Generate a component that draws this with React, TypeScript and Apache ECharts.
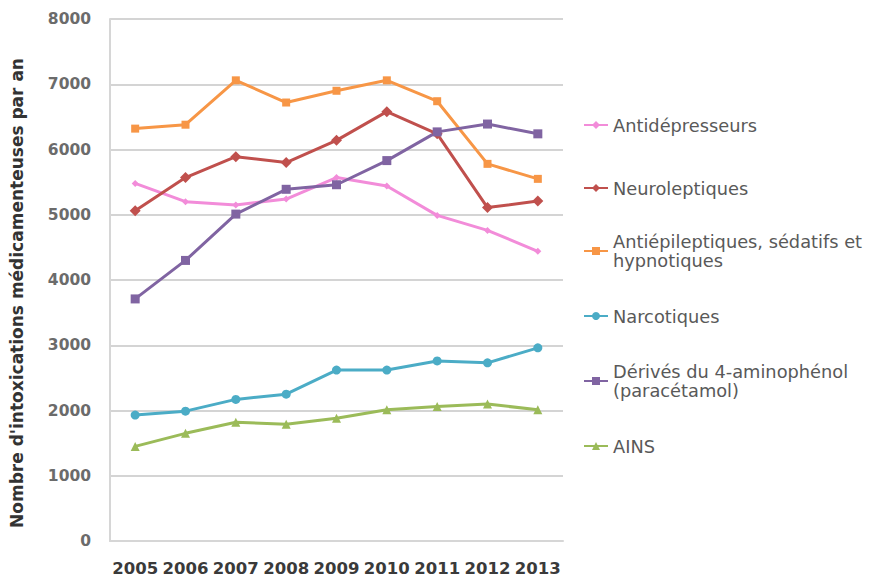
import React, { useEffect, useRef } from "react";
import * as echarts from "echarts";

// Years on the category axis
const years = ["2005", "2006", "2007", "2008", "2009", "2010", "2011", "2012", "2013"];

// Number of drug poisonings per year, by drug class
const antidepresseurs = [5480, 5200, 5150, 5240, 5570, 5440, 4990, 4760, 4440];
const neuroleptiques = [5060, 5570, 5890, 5800, 6140, 6580, 6240, 5110, 5210];
const antiepileptiques = [6320, 6380, 7060, 6720, 6900, 7060, 6740, 5780, 5550];
const narcotiques = [1930, 1990, 2170, 2250, 2620, 2620, 2760, 2730, 2960];
const paracetamol = [3710, 4300, 5010, 5390, 5460, 5830, 6270, 6390, 6240];
const ains = [1450, 1650, 1820, 1790, 1880, 2010, 2060, 2100, 2010];

// Series names as shown in the legend
const names = [
  "Antidépresseurs",
  "Neuroleptiques",
  "Antiépileptiques, sédatifs et\nhypnotiques",
  "Narcotiques",
  "Dérivés du 4-aminophénol\n(paracétamol)",
  "AINS",
];

const FONT = "DejaVu Sans";
const LINE_H = 19;

export default function App() {
  const ref = useRef<HTMLDivElement>(null);

  useEffect(() => {
    if (!ref.current) return;
    const chart = echarts.init(ref.current, undefined, { renderer: "svg" });

    const seriesDefs = [
      { name: names[0], data: antidepresseurs, color: "#F28CD9", symbol: "diamond", size: 7 },
      { name: names[1], data: neuroleptiques, color: "#C0504D", symbol: "diamond", size: 11 },
      { name: names[2], data: antiepileptiques, color: "#F79646", symbol: "rect", size: 8 },
      { name: names[3], data: narcotiques, color: "#4BACC6", symbol: "circle", size: 9 },
      { name: names[4], data: paracetamol, color: "#8064A2", symbol: "rect", size: 9 },
      { name: names[5], data: ains, color: "#9BBB59", symbol: "triangle", size: 9 },
    ];

    // One legend block per entry so each row sits at its own height
    const legendTops = [115.5, 178.5, 222.5, 306.5, 352.5, 436.5];
    const legends = seriesDefs.map((s, i) => {
      const twoLines = s.name.includes("\n");
      return {
        data: [s.name],
        orient: "vertical",
        left: 583,
        top: legendTops[i],
        padding: 0,
        itemWidth: 24,
        itemHeight: 10,
        textStyle: {
          fontFamily: FONT,
          fontSize: 17.8,
          color: "#595959",
          lineHeight: LINE_H,
          padding: twoLines ? [LINE_H, 0, 0, 0] : 0,
        },
      };
    });

    chart.setOption({
      animation: false,
      backgroundColor: "#ffffff",
      grid: { left: 104, right: 307, top: 19, bottom: 41, containLabel: false },
      legend: legends,
      xAxis: {
        type: "category",
        data: years,
        boundaryGap: true,
        axisLine: { show: true, lineStyle: { color: "#d6d6d6", width: 2 } },
        axisTick: { show: false },
        axisLabel: {
          interval: 0,
          hideOverlap: false,
          margin: 19,
          fontFamily: FONT,
          fontSize: 16.5,
          fontWeight: "bold",
          color: "#3a3a3a",
        },
      },
      yAxis: {
        type: "value",
        min: 0,
        max: 8000,
        interval: 1000,
        name: "Nombre d'intoxications médicamenteuses par an",
        nameLocation: "middle",
        nameGap: 85,
        nameTextStyle: {
          fontFamily: FONT,
          fontSize: 17,
          fontWeight: "bold",
          color: "#333333",
          padding: [0, 26, 0, 0],
        },
        axisLine: { show: true, lineStyle: { color: "#d6d6d6", width: 2 } },
        axisTick: { show: false },
        axisLabel: {
          margin: 19,
          fontFamily: FONT,
          fontSize: 15.5,
          fontWeight: "bold",
          color: "#6b6b6b",
          formatter: (v: number) => String(v),
        },
        splitLine: { show: true, lineStyle: { color: "#d4d4d4", width: 2 } },
      },
      series: seriesDefs.map((s) => ({
        type: "line",
        name: s.name,
        data: s.data,
        symbol: s.symbol,
        symbolSize: s.size,
        showAllSymbol: true,
        lineStyle: { color: s.color, width: 3 },
        itemStyle: { color: s.color },
        emphasis: { disabled: true },
      })),
    });

    return () => chart.dispose();
  }, []);

  return (
    <div
      ref={ref}
      style={{ position: "fixed", left: 0, top: 0, width: 870, height: 582 }}
    />
  );
}
